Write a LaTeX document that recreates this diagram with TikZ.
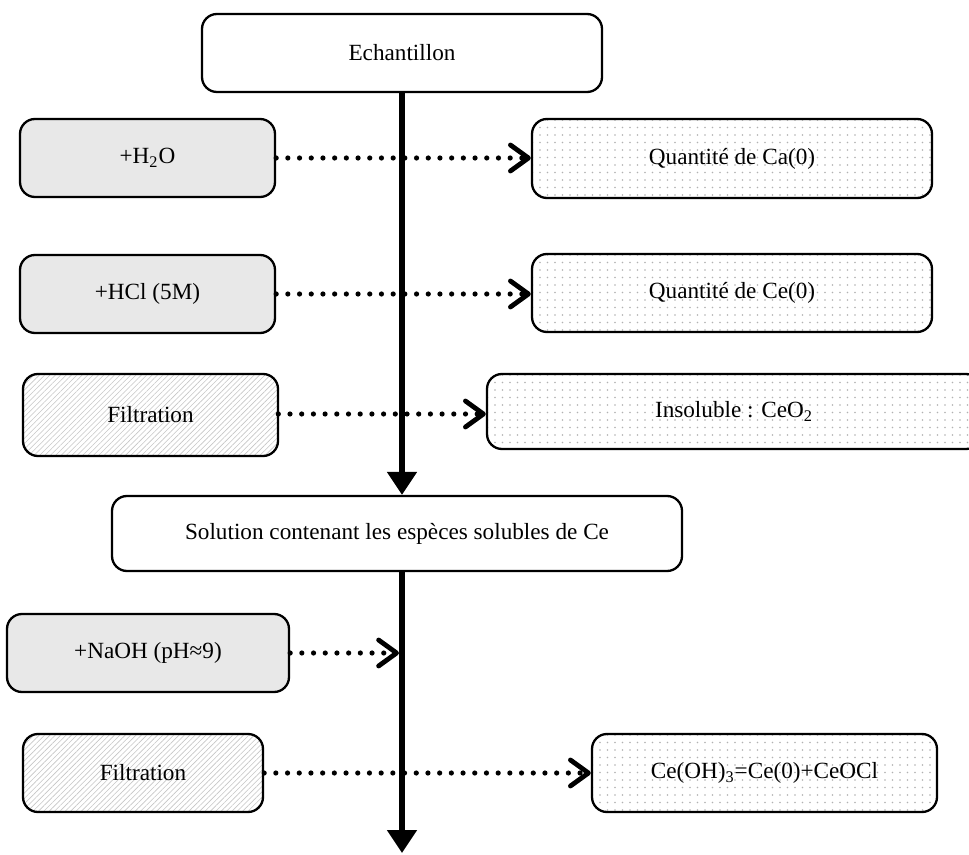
\documentclass[tikz,border=0pt]{standalone}
\usepackage{fontspec}
\setmainfont{Liberation Serif}
\usetikzlibrary{arrows.meta,patterns.meta}
\tikzset{
  box/.style={draw=black, line width=1.15pt, rounded corners=7.5pt, inner sep=0pt, align=center,
    font=\fontsize{11.6}{13.8}\selectfont},
  whitebox/.style={box, fill=white},
  graybox/.style={box, fill=gray!18},
  hatchbox/.style={box, preaction={fill=white}, pattern={Lines[angle=45,distance=1.9pt,line width=0.3pt]}, pattern color=gray!45},
  dotbox/.style={box, preaction={fill=white}, pattern={Dots[distance=3.75pt,radius=0.4pt]}, pattern color=gray!60},
  mainflow/.style={line width=2.6pt, -{Triangle[length=11.5pt,width=14.5pt]}},
  sideflow/.style={line width=2.6pt, line cap=round, dash pattern=on 0pt off 5.85pt,
    -{Straight Barb[length=9pt,width=13pt,line width=2.4pt,round]}}
}
\begin{document}
\begin{tikzpicture}[x=0.5pt,y=-0.5pt]
\useasboundingbox (0,0) rectangle (969,855);
\clip (0,0) rectangle (969,855);
\node[whitebox, minimum width=200pt, minimum height=39pt] (ech) at (402,53) {Echantillon};
\node[graybox, minimum width=127.5pt, minimum height=39pt] (h2o) at (147.5,158) {+H\textsubscript{2}O};
\node[dotbox, minimum width=200pt, minimum height=39.5pt] (ca) at (732,158.5) {Quantité de Ca(0)};
\node[graybox, minimum width=127.5pt, minimum height=39pt] (hcl) at (147.5,294) {+HCl (5M)};
\node[dotbox, minimum width=200pt, minimum height=39pt] (ce0) at (732,293) {Quantité de Ce(0)};
\node[hatchbox, minimum width=127.5pt, minimum height=41pt] (filt1) at (150.5,415) {Filtration};
\node[dotbox, minimum width=247pt, minimum height=37.5pt] (insol) at (734,411.5) {Insoluble : CeO\textsubscript{2}};
\node[whitebox, minimum width=285pt, minimum height=37.5pt] (sol) at (397,533.5) {Solution contenant les espèces solubles de Ce};
\node[graybox, minimum width=141pt, minimum height=39pt] (naoh) at (148,653) {+NaOH (pH≈9)};
\node[hatchbox, minimum width=120pt, minimum height=39pt] (filt2) at (143,773) {Filtration};
\node[dotbox, minimum width=172.5pt, minimum height=39pt] (ceoh) at (764.5,773) {Ce(OH)\textsubscript{3}=Ce(0)+CeOCl};
\coordinate (bottom) at (402,853);
\coordinate (nend) at (399,653);
% side flows (drawn first, main line over them)
\draw[sideflow] (h2o.east) -- (h2o.east -| ca.west);
\draw[sideflow] (hcl.east) -- (hcl.east -| ce0.west);
\draw[sideflow] (filt1.east |- 0,414) -- (insol.west |- 0,414);
\draw[sideflow] (naoh.east) -- (naoh.east -| nend);
\draw[sideflow] (filt2.east) -- (filt2.east -| ceoh.west);
% main flow
\draw[mainflow] (ech.south) -- (ech.south |- sol.north);
\draw[mainflow] (ech.south |- sol.south) -- (bottom);
\end{tikzpicture}
\end{document}
